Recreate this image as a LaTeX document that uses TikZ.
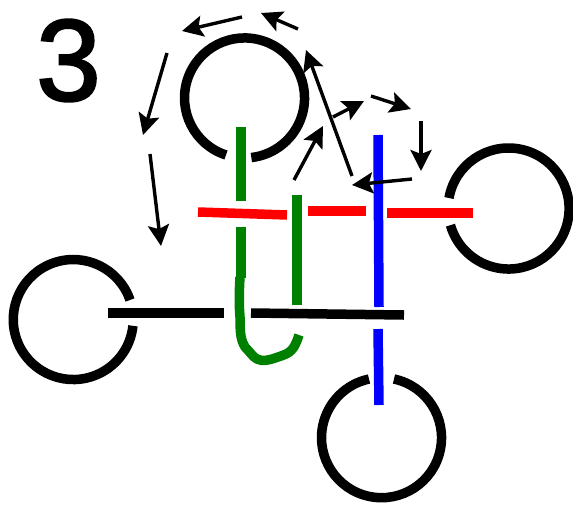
\documentclass[tikz,border=0pt]{standalone}
\usepackage{fontspec}
\setmainfont{Liberation Sans}
\newfontfamily\numfont[FakeBold=2]{Liberation Sans}
\usetikzlibrary{arrows.meta}
\definecolor{dgreen}{RGB}{0,128,0}
\tikzset{
  loopline/.style={line width=9.5pt,black},
  strand/.style={line width=9.5pt},
  flow/.style={line width=3.4pt,black,-{Stealth[length=21pt,width=21pt,inset=4pt]}},
}
\begin{document}
\begin{tikzpicture}[x=1pt,y=-1pt]
\useasboundingbox (0,0) rectangle (573,504);
\node[font=\numfont\fontsize{116}{116}\selectfont,inner sep=0pt] (num) at (68.5,60.5) {3};
% circles
\draw[loopline] (226,155) arc[start angle=108,end angle=443.5,radius=60];
\draw[loopline] (130,300) arc[start angle=-19,end angle=-354,radius=60];
\draw[loopline] (394,379) arc[start angle=-78,end angle=258,radius=60];
\draw[loopline] (449,198) arc[start angle=190,end angle=524,radius=60.5];
% strands
\draw[strand,dgreen] (241,127) -- (241,201);
\draw[strand,dgreen] (241,227) -- (241,278);
\draw[strand,dgreen] (297,195) -- (297,305);
\draw[strand,dgreen] (240,277) .. controls (239,295) and (239,305) .. (240,317)
  .. controls (240,335) and (241,340) .. (245,347)
  .. controls (250,352) and (253,357) .. (257,359)
  .. controls (262,362) and (270,360) .. (278,357)
  .. controls (291,353) and (294,350) .. (299,335);
\draw[strand,red] (198,212) -- (287,215);
\draw[strand,red] (308,211) -- (366,211);
\draw[strand,red] (387,213) -- (473,213);
\draw[strand,blue] (378,135) -- (379,307);
\draw[strand,blue] (378,329) -- (379,405);
\draw[strand,black] (108,313) -- (224,313);
\draw[strand,black] (251,313) -- (404,315);
% arrows
\draw[flow] (242,17) -- (182,31);
\draw[flow] (298,29) -- (261,13);
\draw[flow] (167,53) -- (143,135);
\draw[flow] (150,154) -- (161,246);
\draw[flow] (352,176) -- (306,50);
\draw[flow] (294,180) -- (323,126);
\draw[flow] (333,117) -- (364,101);
\draw[flow] (371,96) -- (411,109);
\draw[flow] (421,121) -- (421,171);
\draw[flow] (412,179) -- (352,185);
\end{tikzpicture}
\end{document}
